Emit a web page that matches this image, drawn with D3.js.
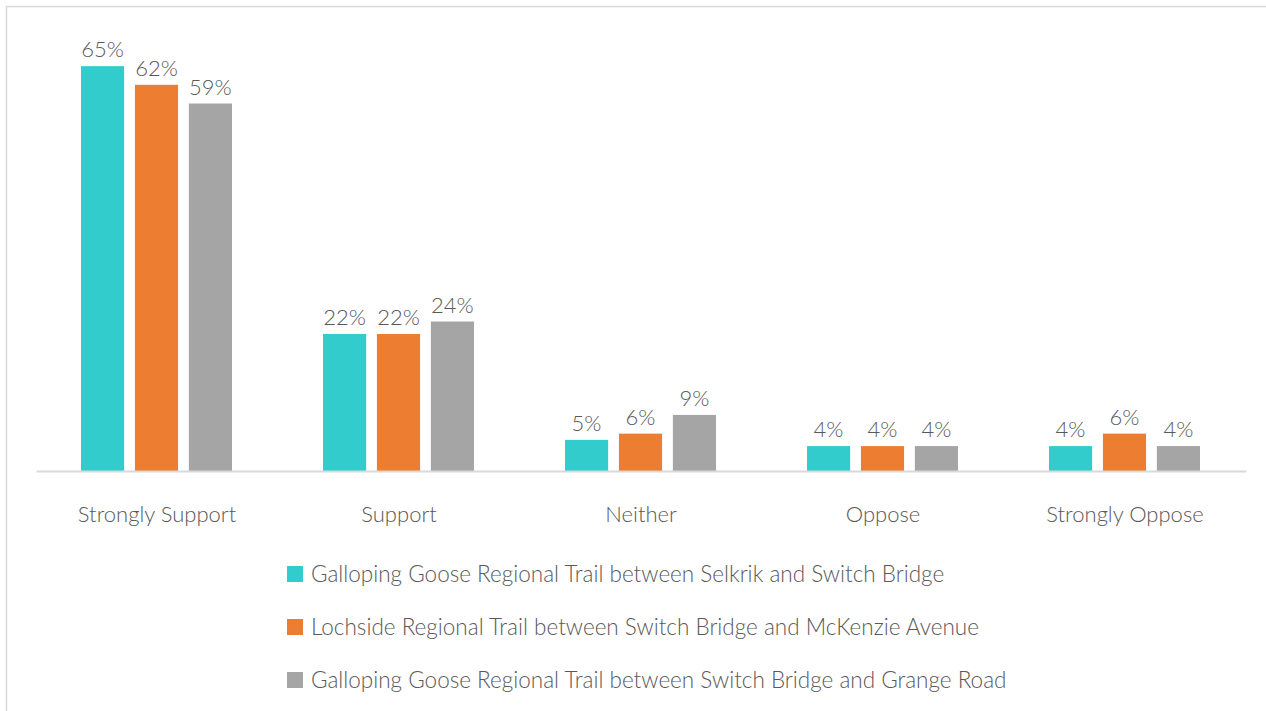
<!DOCTYPE html>
<html>
<head>
<meta charset="utf-8">
<script src="https://cdn.jsdelivr.net/npm/d3@7"></script>
<style>
  html, body { margin: 0; padding: 0; background: #fff; }
  svg { display: block; }
  text { font-family: "Lato", "Open Sans", sans-serif; font-weight: 300; fill: #595959; }
</style>
</head>
<body>
<svg id="chart" width="1266" height="711"></svg>
<script>
// Level of support by trail segment (percent of respondents)
const categories = ["Strongly Support", "Support", "Neither", "Oppose", "Strongly Oppose"];
const seriesNames = [
  "Galloping Goose Regional Trail between Selkrik and Switch Bridge",
  "Lochside Regional Trail between Switch Bridge and McKenzie Avenue",
  "Galloping Goose Regional Trail between Switch Bridge and Grange Road"
];
const selkirkSwitch = [65, 22, 5, 4, 4];
const lochsideMcKenzie = [62, 22, 6, 4, 6];
const switchGrange = [59, 24, 9, 4, 4];
const seriesValues = [selkirkSwitch, lochsideMcKenzie, switchGrange];
const colors = ["#33CCCC", "#ED7D31", "#A5A5A5"];

const svg = d3.select("#chart");

// frame lines (top and left)
svg.append("line").attr("x1", 6).attr("x2", 1266).attr("y1", 6.5).attr("y2", 6.5)
  .attr("stroke", "#d9d9d9").attr("stroke-width", 1.5);
svg.append("line").attr("x1", 6.5).attr("x2", 6.5).attr("y1", 6).attr("y2", 711)
  .attr("stroke", "#d9d9d9").attr("stroke-width", 1.5);

const x0 = d3.scaleBand().domain(categories).range([36, 1246]).paddingInner(0).paddingOuter(0);
const x1 = d3.scaleBand().domain(d3.range(seriesNames.length))
  .range([45, 196]).paddingInner(0.2);
const y = d3.scaleLinear().domain([0, 70]).range([471, 35]);

const groups = svg.append("g").selectAll("g")
  .data(categories)
  .join("g")
  .attr("transform", d => `translate(${x0(d)},0)`);

groups.each(function(cat, ci) {
  const g = d3.select(this);
  seriesValues.forEach((vals, si) => {
    const v = vals[ci];
    g.append("rect")
      .attr("x", x1(si))
      .attr("y", y(v))
      .attr("width", x1.bandwidth())
      .attr("height", y(0) - y(v))
      .attr("fill", colors[si]);
    g.append("text")
      .attr("x", x1(si) + x1.bandwidth() / 2)
      .attr("y", y(v) - 9)
      .attr("text-anchor", "middle")
      .style("font-size", "22px")
      .text(v + "%");
  });
});

// baseline and category axis
const xAxis = svg.append("g").attr("transform", `translate(0,${y(0)})`)
  .call(d3.axisBottom(x0).tickSize(0).tickPadding(35));
xAxis.select(".domain").attr("stroke", "#d9d9d9").attr("stroke-width", 2);
xAxis.selectAll("text")
  .style("font-family", '"Lato", "Open Sans", sans-serif')
  .style("font-size", "22px")
  .attr("fill", "#595959");

// legend
const legend = svg.append("g").selectAll("g")
  .data(seriesNames)
  .join("g")
  .attr("transform", (d, i) => `translate(287,${574 + i * 53})`);
legend.append("rect").attr("x", 0).attr("y", -8).attr("width", 16).attr("height", 16)
  .attr("fill", (d, i) => colors[i]);
legend.append("text").attr("x", 24).attr("y", 0).attr("dy", "0.35em")
  .style("font-size", "22.5px")
  .text(d => d);
</script>
</body>
</html>
